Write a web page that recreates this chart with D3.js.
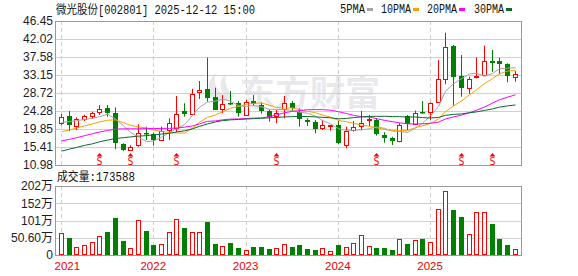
<!DOCTYPE html>
<html><head><meta charset="utf-8">
<script src="https://cdn.jsdelivr.net/npm/d3@7/dist/d3.min.js"></script>
<style>body{margin:0;background:#fff}svg{display:block}</style>
</head><body>
<svg id="chart" width="578" height="276"></svg>
<script>
// ---------------- data ----------------
const months = [
 "2021-01","2021-02","2021-03","2021-04","2021-05","2021-06","2021-07","2021-08","2021-09","2021-10","2021-11","2021-12",
 "2022-01","2022-02","2022-03","2022-04","2022-05","2022-06","2022-07","2022-08","2022-09","2022-10","2022-11","2022-12",
 "2023-01","2023-02","2023-03","2023-04","2023-05","2023-06","2023-07","2023-08","2023-09","2023-10","2023-11","2023-12",
 "2024-01","2024-02","2024-03","2024-04","2024-05","2024-06","2024-07","2024-08","2024-09","2024-10","2024-11","2024-12",
 "2025-01","2025-02","2025-03","2025-04","2025-05","2025-06","2025-07","2025-08","2025-09","2025-10","2025-11","2025-12"];
const opens = [21.40,23.05,20.59,22.31,22.88,23.86,25.02,23.71,16.15,14.85,15.73,18.74,
 18.54,17.14,19.60,20.09,24.28,23.47,28.89,29.70,27.80,24.70,26.33,26.18,
 23.47,26.74,25.76,24.28,23.05,24.77,26.18,23.96,22.06,21.65,20.02,20.66,
 20.83,16.08,19.60,20.59,22.06,22.06,18.37,17.70,16.89,23.05,21.01,23.96,
 23.86,26.42,32.34,40.29,32.90,29.87,32.58,33.15,36.60,36.60,35.78,32.73];
const highs = [23.54,24.28,22.73,23.37,24.11,25.76,25.76,25.19,16.33,15.83,21.01,20.41,
 18.94,20.41,22.48,27.98,26.18,29.75,31.67,37.41,30.02,28.22,29.21,26.74,
 26.99,28.22,26.42,24.70,24.53,27.98,26.74,24.95,22.48,22.06,22.06,20.83,
 21.82,20.41,21.82,24.28,23.30,22.48,19.04,17.95,21.25,23.30,24.36,26.74,
 26.42,36.84,43.57,40.54,38.07,32.73,37.51,40.37,39.31,37.41,36.03,34.13];
const lows = [20.71,19.35,19.60,21.82,22.31,23.30,22.88,14.85,14.43,14.55,15.49,17.14,
 15.73,16.97,17.14,19.11,22.88,23.37,27.24,26.57,24.53,23.71,25.76,22.88,
 23.30,25.59,23.62,21.65,21.25,22.48,24.28,20.41,20.59,18.79,19.60,19.43,
 16.08,15.09,19.18,19.60,20.59,18.20,16.47,15.91,16.57,19.60,20.83,23.62,
 22.06,26.42,30.86,25.59,27.80,28.54,32.34,32.90,33.96,33.32,31.35,31.50];
const closes = [22.80,20.71,22.24,22.98,23.71,24.70,23.86,16.33,14.67,15.49,18.79,18.49,
 16.97,19.35,21.25,23.47,23.54,28.40,29.38,27.56,24.70,26.01,26.01,23.62,
 26.57,25.93,24.36,22.88,23.71,26.18,24.95,22.24,21.65,20.02,20.83,20.83,
 16.33,19.43,20.27,21.25,22.31,18.54,17.70,16.89,20.83,21.08,23.71,23.79,
 26.18,32.09,40.12,32.73,30.02,32.09,32.90,36.52,36.03,35.93,32.73,33.39];
// volume in 万
const volumes = [64.5,49.9,22.5,28.4,37.2,54.8,67.5,108.6,41.1,19.6,101.8,70.4,
 29.3,31.4,66.6,104.7,79.2,66.6,66.6,96.8,32.3,25.5,35.2,20.5,
 13.8,23.5,23.5,17.6,19.6,31.8,23.5,29.3,17.6,14.7,19.6,10.8,
 29.3,22.5,35.2,57.8,25.5,20.5,20.5,14.7,46.0,32.3,43.1,46.0,
 38.1,134.1,186.9,132.0,111.5,61.6,125.3,125.3,91.8,46.9,29.3,17.36];
const ma5 = [21.50,21.70,21.90,22.20,22.49,22.87,23.50,22.32,20.65,19.01,17.83,16.75,
 16.88,17.82,18.97,19.91,20.92,23.20,25.21,26.47,26.72,27.21,26.73,25.58,
 25.38,25.63,25.30,24.67,24.69,24.61,24.42,23.99,23.75,23.01,21.94,21.11,
 19.93,19.49,19.54,19.62,19.92,20.36,20.01,19.34,19.25,19.01,20.04,21.26,
 23.12,25.37,29.18,30.98,32.23,33.41,33.57,32.85,33.51,34.69,34.82,34.92];
const ma10 = [19.20,19.60,20.10,20.60,21.10,21.60,22.00,22.10,21.40,20.75,20.35,20.13,
 19.60,19.24,18.99,18.87,18.84,20.04,21.52,22.72,23.32,24.07,24.97,25.40,
 25.93,26.18,26.26,25.70,25.14,25.00,25.03,24.65,24.21,23.85,23.28,22.77,
 21.96,21.62,21.28,20.78,20.52,20.15,19.75,19.44,19.44,19.47,20.20,20.64,
 21.23,22.31,24.10,25.51,26.75,28.27,29.47,31.02,32.25,33.46,34.12,34.25];
const ma20 = [16.90,17.30,17.70,18.20,18.70,19.10,19.50,19.80,19.90,19.90,19.90,19.95,
 19.95,20.00,20.00,20.10,20.30,20.60,21.10,21.74,21.84,22.10,22.29,22.32,
 22.46,22.53,22.55,22.87,23.33,23.86,24.18,24.36,24.59,24.63,24.61,24.48,
 24.11,23.66,23.21,22.89,22.78,22.40,21.98,21.65,21.36,21.12,21.08,21.13,
 21.26,21.55,22.31,22.83,23.25,23.86,24.46,25.25,26.23,27.05,27.68,28.28];
const ma30 = [14.40,14.90,15.30,15.80,16.20,16.70,17.10,17.50,17.70,17.90,18.10,18.20,
 18.40,18.60,18.80,19.10,19.40,19.90,20.50,21.10,21.60,21.90,22.10,22.20,
 22.30,22.40,22.50,22.60,22.70,22.82,22.90,22.95,22.93,22.83,22.73,22.61,
 22.35,22.45,22.65,22.83,22.96,22.96,22.98,22.90,22.88,22.81,22.81,22.65,
 22.55,22.70,23.22,23.44,23.57,23.85,24.06,24.42,24.80,25.24,25.54,25.78];
const priceTicks = [10.98,15.41,19.85,24.28,28.72,33.15,37.58,42.02,46.45];
const volTicks = [0,50.6,101.2,151.8,202.4];
const volTickLabels = ["0","50.60万","101万","152万","202万"];
const yearStarts = ["2021-01","2022-01","2023-01","2024-01","2025-01"];
const yearLabels = ["2021","2022","2023","2024","2025"];
const signalMonths = ["2021-06","2021-10","2022-04","2023-05","2024-06","2025-05","2025-09"];
const maNames = ["5PMA","10PMA","20PMA","30PMA"];
const titleText = "微光股份[002801] 2025-12-12 15:00";
const lastVolumeText = "成交量:173588";

// ---------------- layout ----------------
const RED = "#ff0000", GREEN = "#008000";
const maColors = ["#a6a6a6","#f5a300","#ff00ff","#0a6b2c"];
const L = 55, R = 522, pTop = 21, pBot = 165, vTop = 186, vBot = 255;
const svg = d3.select("#chart");

const x = d3.scaleBand().domain(months).range([57.15, 518.55]).paddingInner(0.35).paddingOuter(0.175);
const cx = m => Math.round(x(m) + x.bandwidth()/2) + 0.5;
const yP = d3.scaleLinear().domain([10.98, 46.45]).range([pBot, pTop]);
const yV = d3.scaleLinear().domain([0, 202.4]).range([vBot, vTop]);

// watermark
const wm = svg.append("g").attr("fill","#e9e9ed");
wm.append("path").attr("d","M214,101 C206,92 207,80 216,73 C213,82 216,90 224,95 C219,88 219,80 226,74 C224,84 228,92 234,96 C229,100 220,103 214,101 Z");
wm.append("text").attr("x",240).attr("y",106).attr("font-family","Noto Sans CJK SC").attr("font-weight","bold")
  .attr("font-size",35).attr("textLength",140).attr("lengthAdjust","spacingAndGlyphs").text("东方财富");

// grids price
const gP = svg.append("g");
gP.selectAll("line.h").data(priceTicks).join("line")
  .attr("x1",L).attr("x2",R).attr("y1",d=>Math.round(yP(d))+0.5).attr("y2",d=>Math.round(yP(d))+0.5)
  .attr("stroke","#d0d0d0");
gP.selectAll("line.v").data(yearStarts).join("line")
  .attr("x1",cx).attr("x2",cx).attr("y1",pTop).attr("y2",pBot)
  .attr("stroke","#cfcfcf").attr("stroke-dasharray","4,3");
// grids volume
const gV = svg.append("g");
gV.selectAll("line.h").data(volTicks).join("line")
  .attr("x1",L).attr("x2",R).attr("y1",d=>Math.round(yV(d))+0.5).attr("y2",d=>Math.round(yV(d))+0.5)
  .attr("stroke","#d0d0d0");
gV.selectAll("line.v").data(yearStarts).join("line")
  .attr("x1",cx).attr("x2",cx).attr("y1",vTop).attr("y2",vBot)
  .attr("stroke","#cfcfcf").attr("stroke-dasharray","4,3");

// axes (labels)
const axP = svg.append("g").attr("transform",`translate(${L-2},0)`)
  .call(d3.axisLeft(yP).tickValues(priceTicks).tickFormat(d3.format(".2f")).tickSize(0).tickPadding(0));
const axV = svg.append("g").attr("transform",`translate(${L-2},0)`)
  .call(d3.axisLeft(yV).tickValues(volTicks).tickFormat((d,i)=>volTickLabels[i]).tickSize(0).tickPadding(0));
[axP, axV].forEach(a=>{
  a.select(".domain").remove();
  a.selectAll("text").attr("font-family","Liberation Sans, Arial, Noto Sans CJK SC").attr("font-size",12).attr("fill","#1c1c28");
});
axV.selectAll("text").attr("dy","0.32em");

// x axis labels
const axX = svg.append("g").attr("transform",`translate(0,${vBot})`)
  .call(d3.axisBottom(x).tickValues(yearStarts).tickFormat((d,i)=>yearLabels[i]).tickSize(0).tickPadding(7));
axX.select(".domain").remove();
axX.selectAll("text").attr("font-family","Liberation Sans, Arial").attr("font-size",11.5).attr("fill","#ee0000")
  .attr("text-anchor",(d,i)=> i===0 ? "start":"middle").attr("x",(d,i)=> i===0 ? (L - cx(d)) : 0);

// candles
const idx = d3.range(months.length);
const up = i => closes[i] > opens[i] || (closes[i] === opens[i]);
const gC = svg.append("g");
gC.selectAll("line.w").data(idx).join("line")
  .attr("x1",i=>cx(months[i])).attr("x2",i=>cx(months[i]))
  .attr("y1",i=>yP(highs[i])).attr("y2",i=>yP(lows[i]))
  .attr("stroke",i=>up(i)?RED:GREEN);
gC.selectAll("rect").data(idx).join("rect")
  .attr("x",i=> up(i) ? cx(months[i]) - 2 : cx(months[i]) - 2.5)
  .attr("width",i=> up(i) ? 4 : 5)
  .attr("y",i=> Math.round(yP(Math.max(opens[i],closes[i]))) + (up(i)?0.5:0))
  .attr("height",i=> Math.max(up(i)?1:1.5, Math.round(Math.abs(yP(opens[i])-yP(closes[i])))))
  .attr("fill",i=> up(i) ? "#fff" : GREEN)
  .attr("stroke",i=> up(i) ? RED : "none");

// moving averages
const mas = [ma5, ma10, ma20, ma30];
const line = arr => d3.line().x((d,i)=>cx(months[i])).y(d=>yP(d))(arr);
svg.append("g").selectAll("path").data(mas).join("path")
  .attr("d",line).attr("fill","none").attr("stroke",(d,i)=>maColors[i]).attr("stroke-width",1);

// signal markers
const gS = svg.append("g").attr("fill",RED);
signalMonths.forEach(m=>{
  const c = cx(m);
  gS.append("path").attr("d",`M${c-3},${pBot-8.5} L${c},${pBot-12} L${c+3},${pBot-8.5} Z`);
  gS.append("text").attr("x",c).attr("y",pBot-0.5).attr("text-anchor","middle")
    .attr("font-family","DejaVu Sans Mono, Liberation Mono").attr("font-size",10).text("S");
});

// volume bars
const gVB = svg.append("g");
gVB.selectAll("rect").data(idx).join("rect")
  .attr("x",i=> up(i) ? cx(months[i]) - 2 : cx(months[i]) - 2.5)
  .attr("width",i=> up(i) ? 4 : 5)
  .attr("y",i=> Math.round(yV(volumes[i])) + (up(i)?0.5:0))
  .attr("height",i=> Math.round(vBot - yV(volumes[i])) - (up(i)?1:0))
  .attr("fill",i=> up(i) ? "#fff" : GREEN)
  .attr("stroke",i=> up(i) ? RED : "none");

// borders
svg.append("rect").attr("x",L+0.5).attr("y",pTop+0.5).attr("width",R-L-1).attr("height",pBot-pTop)
  .attr("fill","none").attr("stroke","#999");
svg.append("rect").attr("x",L+0.5).attr("y",vTop+0.5).attr("width",R-L-1).attr("height",vBot-vTop)
  .attr("fill","none").attr("stroke","#999");

// title
svg.append("text").attr("x",56).attr("y",14).attr("font-family","Liberation Mono, Noto Sans CJK SC")
  .attr("font-size",12).attr("fill","#111").attr("textLength",199).attr("lengthAdjust","spacingAndGlyphs").text(titleText);
svg.append("text").attr("x",57).attr("y",181).attr("font-family","Liberation Mono, Noto Sans CJK SC")
  .attr("font-size",12).attr("fill","#111").attr("textLength",78).attr("lengthAdjust","spacingAndGlyphs").text(lastVolumeText);

// legend
const legX = [340, 381, 427, 474];
const legW = [25, 30, 30, 30];
const gL = svg.append("g");
maNames.forEach((n,i)=>{
  gL.append("text").attr("x",legX[i]).attr("y",13).attr("font-family","Liberation Mono, monospace")
    .attr("font-size",12).attr("fill","#111").attr("textLength",legW[i]).attr("lengthAdjust","spacingAndGlyphs").text(n);
  gL.append("rect").attr("x",legX[i]+legW[i]+2).attr("y",8).attr("width",6).attr("height",3).attr("fill",maColors[i]);
});
</script>
</body></html>
